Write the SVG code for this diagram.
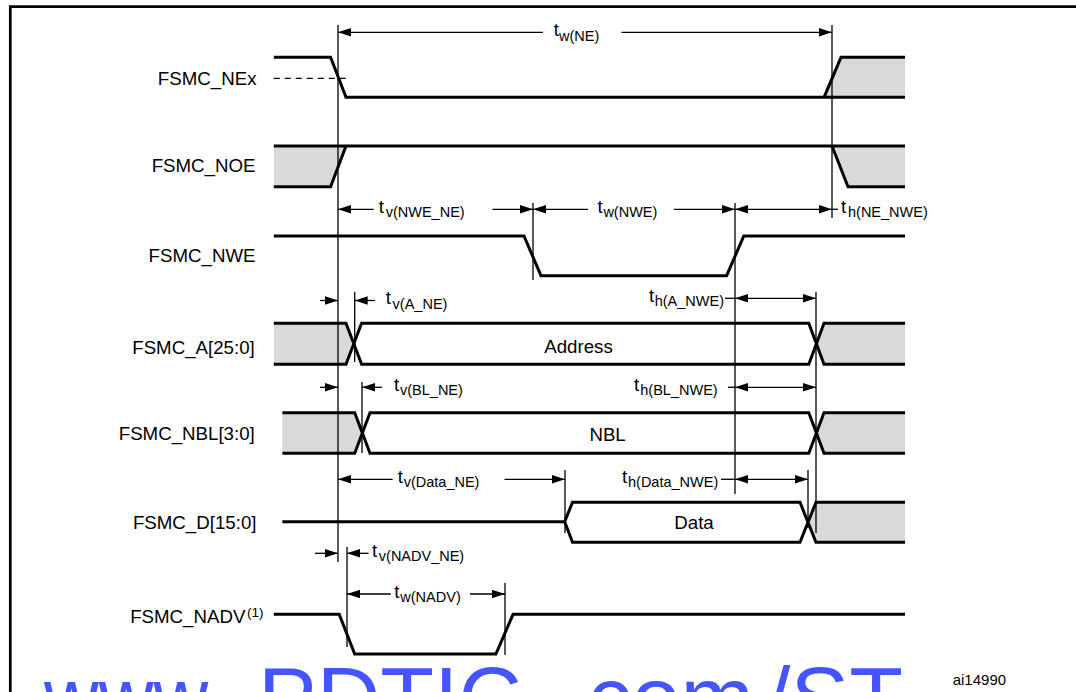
<svg xmlns="http://www.w3.org/2000/svg" width="1076" height="692" viewBox="0 0 1076 692">
<style>
.sig{fill:none;stroke:#000;stroke-width:3;stroke-linejoin:miter}
.grey{fill:#d9d9d9;stroke:none}
.thin{fill:none;stroke:#000;stroke-width:1.3}
.dash{fill:none;stroke:#000;stroke-width:1.3;stroke-dasharray:6 5}
.a2{marker-start:url(#ah);marker-end:url(#ah)}
.as{marker-start:url(#ah)}
.ae{marker-end:url(#ah)}
.lbl{font-family:"Liberation Sans",Arial,Helvetica,sans-serif;font-size:18.7px;fill:#000}
.ctr{text-anchor:middle}
.end{text-anchor:end}
.sub{font-size:14.5px}
.wm{font-family:"Liberation Sans",Arial,Helvetica,sans-serif;font-size:88px;fill:#4455ff}
</style>
<defs>
<marker id="ah" markerUnits="userSpaceOnUse" viewBox="0 0 13 8.5" markerWidth="13" markerHeight="8.5" refX="13" refY="4.25" orient="auto-start-reverse"><path d="M0,0 L13,4.25 L0,8.5 z" fill="#000"/></marker>
</defs>

<g id="frame"><path d="M10.3,692 V6.7 H1076" fill="none" stroke="#000" stroke-width="2.7"/></g>

<g id="sig-nex">
<polygon class="grey" points="824,97.3 841,57.3 905,57.3 905,97.3"/>
<path class="sig" d="M273.8,57.3 H330.6 L346,97.3 H905 M824,97.3 L841,57.3 H905"/>
<line class="dash" x1="273.8" y1="78.3" x2="346" y2="78.3"/>
<text class="lbl end" x="256.5" y="85">FSMC_NEx</text>
</g>

<g id="sig-noe">
<polygon class="grey" points="273.8,146 346,146 330.6,186.7 273.8,186.7"/>
<polygon class="grey" points="832,146 905,146 905,186.7 848,186.7"/>
<path class="sig" d="M273.8,146 H905 M273.8,186.7 H330.6 L346,146 M832,146 L848,186.7 H905"/>
<text class="lbl end" x="255.5" y="171.7">FSMC_NOE</text>
</g>

<g id="sig-nwe">
<path class="sig" d="M273.8,236 H524 L541,275.7 H726.6 L743.8,236 H905"/>
<text class="lbl end" x="255.5" y="261.5">FSMC_NWE</text>
</g>

<g id="sig-a">
<polygon class="grey" points="273.8,323.3 346,323.3 353.8,343.8 346,364.3 273.8,364.3"/>
<polygon class="grey" points="824,323.3 905,323.3 905,364.3 824,364.3 816.4,343.8"/>
<path class="sig" d="M273.8,323.3 H346 L361.6,364.3 H808.8 L824,323.3 H905 M273.8,364.3 H346 L361.6,323.3 H808.8 L824,364.3 H905"/>
<text class="lbl ctr" x="578.5" y="353">Address</text>
<text class="lbl end" x="254.8" y="354">FSMC_A[25:0]</text>
</g>

<g id="sig-nbl">
<polygon class="grey" points="282.4,412.7 354.7,412.7 362.3,433 354.7,453.3 282.4,453.3"/>
<polygon class="grey" points="824,412.7 905,412.7 905,453.3 824,453.3 816.4,433"/>
<path class="sig" d="M282.4,412.7 H354.7 L370,453.3 H808.8 L824,412.7 H905 M282.4,453.3 H354.7 L370,412.7 H808.8 L824,453.3 H905"/>
<text class="lbl ctr" x="607.6" y="440.5">NBL</text>
<text class="lbl end" x="254.8" y="439.5">FSMC_NBL[3:0]</text>
</g>

<g id="sig-d">
<polygon class="grey" points="816,502.3 905,502.3 905,542.3 816,542.3 808,522.3"/>
<path class="sig" d="M282.4,521.7 H564.7 L572.5,502.3 H800 L816,542.3 H905 M564.7,521.7 L572.5,542.3 H800 L816,502.3 H905"/>
<text class="lbl ctr" x="694" y="528.5">Data</text>
<text class="lbl end" x="256.5" y="528.5">FSMC_D[15:0]</text>
</g>

<g id="sig-nadv">
<path class="sig" d="M273.8,614.3 H339.2 L354.7,654 H495.9 L513.1,614.3 H905"/>
<text class="lbl end" x="263.4" y="622.5">FSMC_NADV<tspan font-size="13.5px" dx="1.5" dy="-6">(1)</tspan></text>
</g>

<g id="connectors">
<line class="thin" x1="338" y1="25" x2="338" y2="562"/>
<line class="thin" x1="832" y1="25" x2="832" y2="218"/>
<line class="thin" x1="533" y1="203" x2="533" y2="280"/>
<line class="thin" x1="735" y1="203" x2="735" y2="494"/>
<line class="thin" x1="816" y1="292" x2="816" y2="533"/>
<line class="thin" x1="565" y1="470" x2="565" y2="533"/>
<line class="thin" x1="808" y1="470" x2="808" y2="528"/>
<line class="thin" x1="354.7" y1="292" x2="354.7" y2="362"/>
<line class="thin" x1="362" y1="382" x2="362" y2="453"/>
<line class="thin" x1="347" y1="547" x2="347" y2="647"/>
<line class="thin" x1="505" y1="583" x2="505" y2="655"/>

<line class="thin as" x1="338" y1="32.3" x2="543" y2="32.3"/>
<line class="thin ae" x1="621.5" y1="32.3" x2="832" y2="32.3"/>

<line class="thin as" x1="338" y1="209.3" x2="373.6" y2="209.3"/>
<line class="thin ae" x1="492.4" y1="209.3" x2="533" y2="209.3"/>
<line class="thin as" x1="533" y1="209.3" x2="588" y2="209.3"/>
<line class="thin ae" x1="674" y1="209.3" x2="735" y2="209.3"/>
<line class="thin a2" x1="735" y1="209.3" x2="832" y2="209.3"/>
<line class="thin" x1="832" y1="209.3" x2="838" y2="209.3"/>

<line class="thin ae" x1="320" y1="300.5" x2="338" y2="300.5"/>
<line class="thin as" x1="354.7" y1="300.5" x2="375" y2="300.5"/>
<line class="thin" x1="725" y1="298.3" x2="735" y2="298.3"/>
<line class="thin a2" x1="735" y1="298.3" x2="816" y2="298.3"/>

<line class="thin ae" x1="320" y1="387.3" x2="338" y2="387.3"/>
<line class="thin as" x1="362" y1="387.3" x2="382" y2="387.3"/>
<line class="thin" x1="728" y1="387.3" x2="735" y2="387.3"/>
<line class="thin a2" x1="735" y1="387.3" x2="816" y2="387.3"/>

<line class="thin as" x1="338" y1="479.3" x2="392.6" y2="479.3"/>
<line class="thin ae" x1="504.5" y1="479.3" x2="565" y2="479.3"/>
<line class="thin" x1="721" y1="479.3" x2="735" y2="479.3"/>
<line class="thin a2" x1="735" y1="479.3" x2="808" y2="479.3"/>

<line class="thin ae" x1="315" y1="553.3" x2="338" y2="553.3"/>
<line class="thin as" x1="347" y1="553.3" x2="368.5" y2="553.3"/>
<line class="thin as" x1="347" y1="594" x2="390.8" y2="594"/>
<line class="thin ae" x1="470" y1="594" x2="505" y2="594"/>
</g>

<g id="timing-labels">
<text class="lbl" x="553.7" y="36">t<tspan class="sub" x="559" y="40.5">w(NE)</tspan></text>
<text class="lbl" x="378.8" y="212.8">t<tspan class="sub" x="385.7" y="217.3">v(NWE_NE)</tspan></text>
<text class="lbl" x="597.5" y="212.8">t<tspan class="sub" x="603.4" y="217.3">w(NWE)</tspan></text>
<text class="lbl" x="841" y="212.8">t<tspan class="sub" x="848" y="217.3">h(NE_NWE)</tspan></text>
<text class="lbl" x="385.7" y="304">t<tspan class="sub" x="392.6" y="308.5">v(A_NE)</tspan></text>
<text class="lbl" x="649" y="301.8">t<tspan class="sub" x="654.7" y="306.3">h(A_NWE)</tspan></text>
<text class="lbl" x="394" y="390.8">t<tspan class="sub" x="400" y="395.3">v(BL_NE)</tspan></text>
<text class="lbl" x="634" y="390.8">t<tspan class="sub" x="640.3" y="395.3">h(BL_NWE)</tspan></text>
<text class="lbl" x="397.7" y="482.8">t<tspan class="sub" x="403.7" y="487.3">v(Data_NE)</tspan></text>
<text class="lbl" x="622" y="482.8">t<tspan class="sub" x="628" y="487.3">h(Data_NWE)</tspan></text>
<text class="lbl" x="372" y="556.8">t<tspan class="sub" x="378.8" y="561.3">v(NADV_NE)</tspan></text>
<text class="lbl" x="394.3" y="597.5">t<tspan class="sub" x="400.3" y="602">w(NADV)</tspan></text>
</g>

<g id="watermark">
<text class="wm" x="44" y="728" textLength="181" lengthAdjust="spacingAndGlyphs">www.</text>
<text class="wm" x="258" y="728">PDTIC</text>
<text class="wm" x="563" y="728">.com</text>
<text class="wm" x="766" y="728">/ST</text>
</g>

<g id="figure-id"><text class="lbl" x="952.7" y="685" style="font-size:15px">ai14990</text></g>
</svg>
